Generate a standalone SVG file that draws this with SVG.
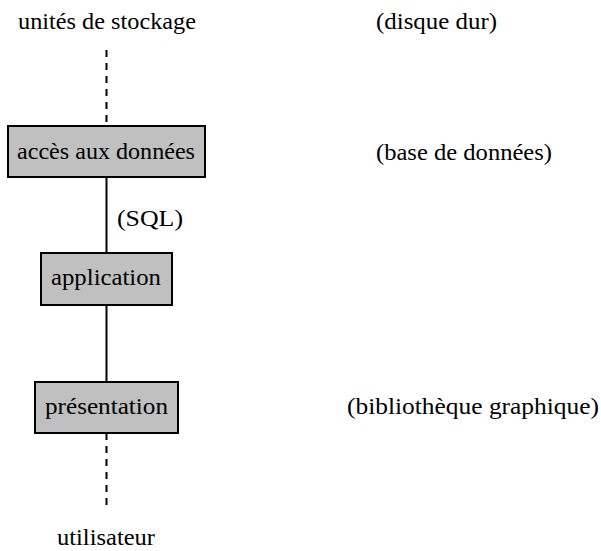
<svg xmlns="http://www.w3.org/2000/svg" width="601" height="551" viewBox="0 0 601 551">
  <style>
    .box { fill: #c0c0c0; stroke: #000; stroke-width: 2; }
    .solid { stroke: #000; stroke-width: 2; fill: none; }
    .dash { stroke: #000; stroke-width: 2; fill: none; stroke-dasharray: 7 6; }
  </style>
  <rect width="601" height="551" fill="#fff"/>

  <g font-family="Liberation Serif" font-size="23" fill="#000">
    <!-- connectors between the layers -->
    <g id="connectors">
      <line class="dash" x1="106.5" y1="50" x2="106.5" y2="126"/>
      <line class="solid" x1="106.5" y1="177" x2="106.5" y2="253"/>
      <line class="solid" x1="106.5" y1="305" x2="106.5" y2="382"/>
      <line class="dash" x1="106.5" y1="433" x2="106.5" y2="505"/>
      <text x="117" y="226" textLength="66" lengthAdjust="spacingAndGlyphs">(SQL)</text>
    </g>

    <g id="storage">
      <text x="18" y="29" textLength="178" lengthAdjust="spacingAndGlyphs">unités de stockage</text>
    </g>

    <g id="data-access">
      <rect class="box" x="8" y="126" width="197" height="51"/>
      <text x="17" y="159" textLength="178" lengthAdjust="spacingAndGlyphs">accès aux données</text>
    </g>

    <g id="application">
      <rect class="box" x="41" y="253" width="131" height="52"/>
      <text x="51" y="285" textLength="110" lengthAdjust="spacingAndGlyphs">application</text>
    </g>

    <g id="presentation">
      <rect class="box" x="35" y="382" width="143" height="51"/>
      <text x="45" y="414" textLength="123" lengthAdjust="spacingAndGlyphs">présentation</text>
    </g>

    <g id="user">
      <text x="57" y="545" textLength="98" lengthAdjust="spacingAndGlyphs">utilisateur</text>
    </g>

    <!-- technology notes on the right -->
    <g id="notes">
      <text x="376" y="29" textLength="121" lengthAdjust="spacingAndGlyphs">(disque dur)</text>
      <text x="376" y="160" textLength="176" lengthAdjust="spacingAndGlyphs">(base de données)</text>
      <text x="347" y="414" textLength="252" lengthAdjust="spacingAndGlyphs">(bibliothèque graphique)</text>
    </g>
  </g>
</svg>
